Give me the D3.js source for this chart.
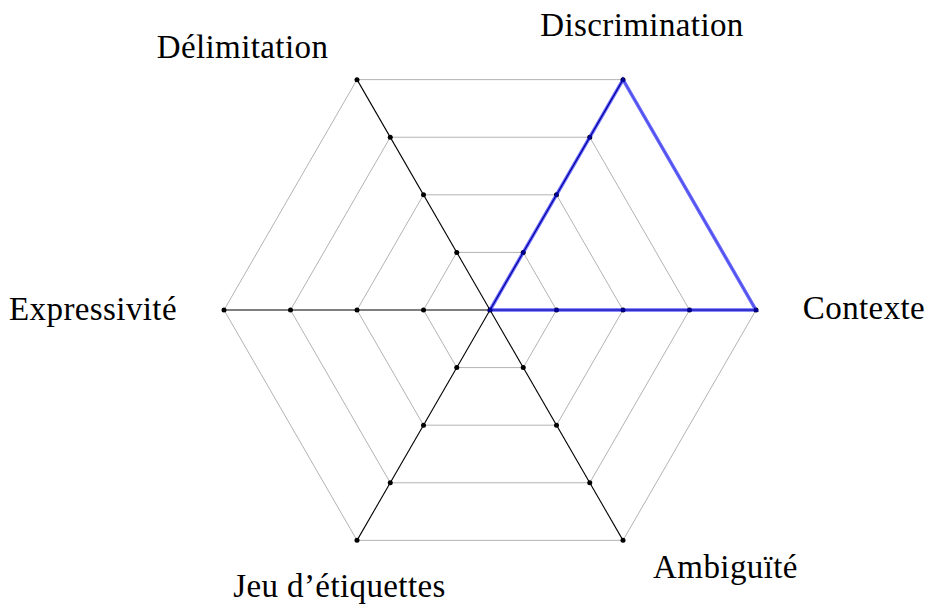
<!DOCTYPE html>
<html>
<head>
<meta charset="utf-8">
<script src="https://cdn.jsdelivr.net/npm/d3@7"></script>
<style>
  html, body { margin: 0; padding: 0; background: #fff; }
  svg { display: block; }
  text { font-family: "Liberation Serif", "Times New Roman", serif; fill: #000; }
</style>
</head>
<body>
<svg id="chart" width="928" height="608"></svg>
<script>
// ---- data ----
const axes = ["Contexte", "Discrimination", "Délimitation", "Expressivité", "Jeu d’étiquettes", "Ambiguïté"];
const levels = [1, 2, 3, 4];
const seriesValues = [4, 4, 0, 0, 0, 0];

// ---- layout ----
const W = 928, H = 608;
const cx = 490, cy = 310, R = 266;
const svg = d3.select("#chart");

const rScale = d3.scaleLinear().domain([0, 4]).range([0, R]);
const angleScale = d3.scaleLinear().domain([0, axes.length]).range([0, 2 * Math.PI]);

function pt(i, v) {
  const a = angleScale(i);
  return [cx + rScale(v) * Math.cos(a), cy - rScale(v) * Math.sin(a)];
}

const g = svg.append("g");

// grid hexagons
const line = d3.line();
levels.forEach(l => {
  const pts = axes.map((_, i) => pt(i, l));
  g.append("path")
    .attr("d", line(pts) + "Z")
    .attr("fill", "none")
    .attr("stroke", "#b3b3b3")
    .attr("stroke-width", 1);
});

// axis lines
axes.forEach((_, i) => {
  const [x2, y2] = pt(i, d3.max(levels));
  g.append("line")
    .attr("x1", cx).attr("y1", cy)
    .attr("x2", x2).attr("y2", y2)
    .attr("stroke", "#000")
    .attr("stroke-width", 1.1);
});

// dots
g.append("circle").attr("cx", cx).attr("cy", cy).attr("r", 2.5).attr("fill", "#000");
axes.forEach((_, i) => {
  levels.forEach(l => {
    const [x, y] = pt(i, l);
    g.append("circle").attr("cx", x).attr("cy", y).attr("r", 2.5).attr("fill", "#000");
  });
});

// series polygon
const sPts = seriesValues.map((v, i) => pt(i, v));
g.append("path")
  .attr("d", line(sPts) + "Z")
  .attr("fill", "none")
  .attr("stroke", "#0000ff")
  .attr("stroke-opacity", 0.6)
  .attr("stroke-width", 3.5)
  .attr("stroke-linejoin", "miter");

// labels (offsets relative to outer vertex)
const labelOffsets = [[108, 9], [19, -44], [-114.5, -22], [-131, 10], [-17.5, 57], [102.5, 38]];
axes.forEach((name, i) => {
  const [x, y] = pt(i, d3.max(levels));
  g.append("text")
    .attr("x", x + labelOffsets[i][0])
    .attr("y", y + labelOffsets[i][1])
    .attr("text-anchor", "middle")
    .attr("font-size", 33)
    .attr("letter-spacing", 0.4)
    .text(name);
});
</script>
</body>
</html>
